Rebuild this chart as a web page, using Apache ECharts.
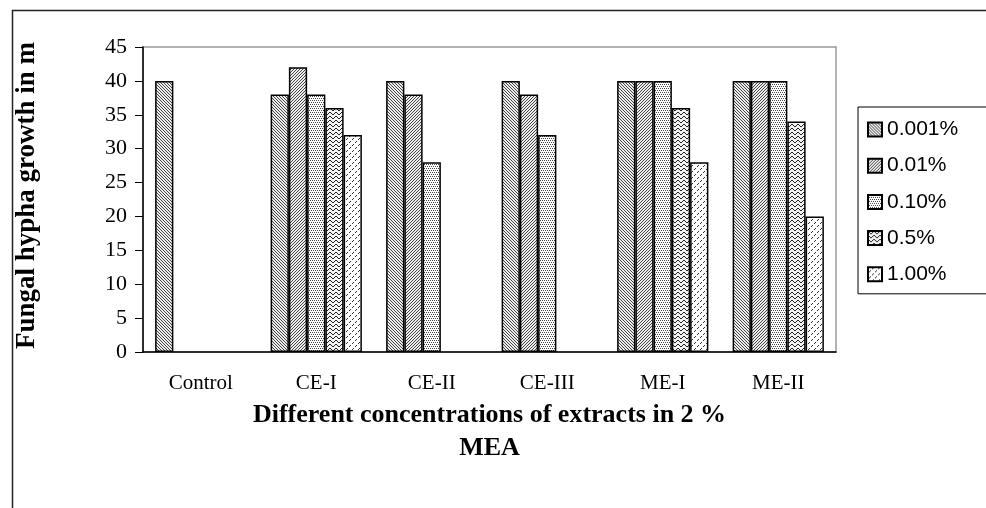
<!DOCTYPE html>
<html>
<head>
<meta charset="utf-8">
<script src="https://cdn.jsdelivr.net/npm/echarts@6/dist/echarts.min.js"></script>
<style>
html,body{margin:0;padding:0;background:#fff;}
#chart{width:986px;height:508px;}
</style>
</head>
<body>
<div id="chart"></div>
<script>
var categories = ['Control', 'CE-I', 'CE-II', 'CE-III', 'ME-I', 'ME-II'];
var seriesNames = ['0.001%', '0.01%', '0.10%', '0.5%', '1.00%'];
var s0001 = [40, 38, 40, 40, 40, 40];
var s001 = [null, 42, 38, 38, 40, 40];
var s010 = [null, 38, 28, 32, 40, 40];
var s05 = [null, 36, null, null, 36, 34];
var s100 = [null, 32, null, null, 28, 20];
var yTicks = { min: 0, max: 45, interval: 5 };

function makePattern(w, h, pixels, bg, fg) {
  var c = document.createElement('canvas');
  c.width = w; c.height = h;
  var ctx = c.getContext('2d');
  ctx.fillStyle = bg || '#ffffff';
  ctx.fillRect(0, 0, w, h);
  ctx.fillStyle = fg || '#222222';
  pixels.forEach(function (p) { ctx.fillRect(p[0], p[1], 1, 1); });
  return { image: c, repeat: 'repeat' };
}
// backslash hatch
var pat1 = makePattern(3, 3, [[0,0],[1,1],[2,2]], '#eeeeee', '#444');
// forward slash hatch
var pat2 = makePattern(3, 3, [[2,0],[1,1],[0,2]], '#eeeeee', '#444');
// fine dots
var pat3 = makePattern(4, 4, [[0,0],[2,0],[1,2],[3,2]], '#ffffff', '#444');
// zigzag
var pat4 = makePattern(6, 4, [[0,0],[1,1],[2,2],[3,2],[4,1],[5,0]], '#f4f4f4', '#222');
// wider dashed forward slash
var pat5 = makePattern(6, 6, [[5,0],[4,1],[2,3],[1,4]], '#ffffff', '#333');
var patterns = [pat1, pat2, pat3, pat4, pat5];
var dataSets = [s0001, s001, s010, s05, s100];

var chart = echarts.init(document.getElementById('chart'));
var series = dataSets.map(function (d, i) {
  return {
    name: seriesNames[i],
    type: 'bar',
    data: d,
    barGap: '0%',
    barCategoryGap: '21%',
    itemStyle: { color: patterns[i], borderColor: '#000', borderWidth: 1.5 },
    emphasis: { disabled: true },
    animation: false
  };
});

chart.setOption({
  animation: false,
  backgroundColor: '#fff',
  graphic: [{
    type: 'rect', left: 10, top: 8,
    shape: { width: 1000, height: 600 },
    style: { fill: 'none', stroke: '#222', lineWidth: 1.5 },
    silent: true, z: -10
  }],
  grid: {
    left: 143, right: 150, top: 47, bottom: 156,
    show: true, borderColor: '#999', borderWidth: 1.5, backgroundColor: 'transparent'
  },
  legend: {
    orient: 'vertical',
    left: 858, top: 107,
    padding: [12, 40, 9, 9],
    itemWidth: 14, itemHeight: 14, itemGap: 15.2,
    backgroundColor: '#fff',
    borderColor: '#000', borderWidth: 1,
    borderRadius: 0,
    icon: 'rect',
    textStyle: { fontFamily: 'Liberation Sans', fontSize: 21, color: '#000' },
    data: seriesNames
  },
  xAxis: {
    type: 'category',
    data: categories,
    axisLine: { lineStyle: { color: '#000', width: 1.5 } },
    axisTick: { length: 7, lineStyle: { color: '#000' } },
    axisLabel: { margin: 21, fontFamily: 'Liberation Serif', fontSize: 21, color: '#000' },
    name: 'Different concentrations of extracts in 2 %\nMEA',
    nameLocation: 'middle',
    nameGap: 43,
    nameTextStyle: { fontFamily: 'Liberation Serif', fontWeight: 'bold', fontSize: 26, color: '#000', lineHeight: 33, verticalAlign: 'top' }
  },
  yAxis: {
    type: 'value',
    min: yTicks.min, max: yTicks.max, interval: yTicks.interval,
    splitLine: { show: false },
    axisLine: { show: true, lineStyle: { color: '#000', width: 1.5 } },
    axisTick: { show: true, length: 8, lineStyle: { color: '#000' } },
    axisLabel: { margin: 16, fontFamily: 'Liberation Serif', fontSize: 22, color: '#000' },
    name: 'Fungal hypha growth in m',
    nameLocation: 'middle',
    nameGap: 102,
    nameTextStyle: { fontFamily: 'Liberation Serif', fontWeight: 'bold', fontSize: 27, color: '#000', padding: [0, 0, 0, 8] }
  },
  series: series
});
</script>
</body>
</html>
